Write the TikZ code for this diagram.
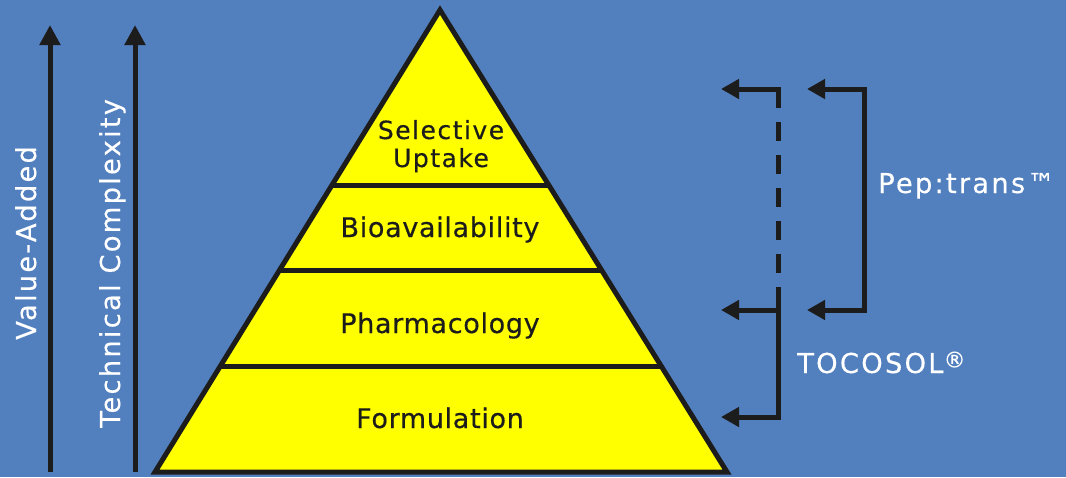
\documentclass[tikz,border=0pt]{standalone}
\usepackage{fontspec}
\setmainfont{DejaVu Sans}
\newfontfamily\tierfont{DejaVu Sans}[LetterSpace=2.5, FakeBold=0.4]
\newfontfamily\capfont{DejaVu Sans}[LetterSpace=6, FakeBold=0.4]
\newfontfamily\tagfont{DejaVu Sans}[LetterSpace=8, FakeBold=0.3]
\usetikzlibrary{arrows.meta,calc}
\definecolor{bgblue}{RGB}{82,128,190}
\definecolor{pyryellow}{RGB}{255,255,0}
\definecolor{ink}{RGB}{28,28,28}

\begin{document}
\begin{tikzpicture}[x=1pt,y=-1pt,
  axistip/.tip={Triangle[width=20pt,length=20pt]},
  feedtip/.tip={Triangle[width=19pt,length=18pt]},
  axis/.style={line width=5pt, draw=ink, -axistip},
  rail/.style={line width=5pt, draw=ink},
  feed/.style={rail, -feedtip},
  tier/.style={font=\tierfont\fontsize{27}{30}\selectfont, text=ink, inner sep=0pt},
  toptier/.style={font=\capfont\fontsize{25}{28}\selectfont, text=ink, inner sep=0pt},
  tag/.style={font=\tagfont\fontsize{27.4}{30}\selectfont, text=white, inner sep=0pt},
]
% background
\fill[bgblue] (0,0) rectangle (1066,477);
\useasboundingbox (0,0) rectangle (1066,477);

% vertical axes
\coordinate (va0) at (50,472);
\coordinate (va1) at (50,25);
\coordinate (tc0) at (135,472);
\coordinate (tc1) at (135,25);
\draw[axis] (va0) -- (va1);
\draw[axis] (tc0) -- (tc1);
\node[tag, rotate=90, anchor=base west] (valabel) at (36,340) {Value-Added};
\node[tag, rotate=90, anchor=base west] (tclabel) at (120,428) {Technical Complexity};

% pyramid
\coordinate (apex) at (440,10);
\coordinate (bl) at (155,472);
\coordinate (br) at (727,472);
\fill[pyryellow] (apex) -- (bl) -- (br) -- cycle;
\foreach \t/\n in {0.3788/a, 0.5628/b, 0.7727/c}{
  \draw[rail] ($(apex)!\t!(bl)$) coordinate (sl\n) -- ($(apex)!\t!(br)$) coordinate (sr\n);
}
\draw[rail, line join=miter] (apex) -- (bl) -- (br) -- cycle;

\node[toptier, anchor=base] (selective) at (441,139) {Selective};
\node[toptier, anchor=base] (uptake) at (441,167) {Uptake};
\node[tier, anchor=base] (bioav) at (440,237) {Bioavailability};
\node[tier, anchor=base] (pharm) at (440,333) {Pharmacology};
\node[tier, anchor=base] (formul) at (440,428) {Formulation};

% TOCOSOL bracket
\coordinate (t1) at (778,89);
\coordinate (t2) at (778,290);
\coordinate (t4) at (778,310);
\coordinate (t3) at (778,417);
\coordinate (a1) at (721,89);
\coordinate (a2) at (721,310);
\coordinate (a3) at (721,417);
\draw[feed] ([xshift=2.5pt]t1) -- (a1);
\draw[rail, dash pattern=on 19pt off 14pt] (t1) -- (t2);
\draw[rail] (t2) -- (t3);
\draw[feed] (t4) -- (a2);
\draw[feed] ([xshift=2.5pt]t3) -- (a3);

% Pep:trans bracket
\coordinate (p1) at (864,89);
\coordinate (p2) at (864,310);
\coordinate (b1) at (807,89);
\coordinate (b2) at (807,310);
\draw[rail, line join=miter, feedtip-feedtip] (b1) -- (p1) -- (p2) -- (b2);

\node[tag, anchor=base west] (peptrans) at (878,193) {Pep:trans™};
\node[tag, anchor=base west] (tocosol) at (797,373) {TOCOSOL\raisebox{0.2em}{\fontsize{22}{22}\selectfont ®}};
\end{tikzpicture}
\end{document}
